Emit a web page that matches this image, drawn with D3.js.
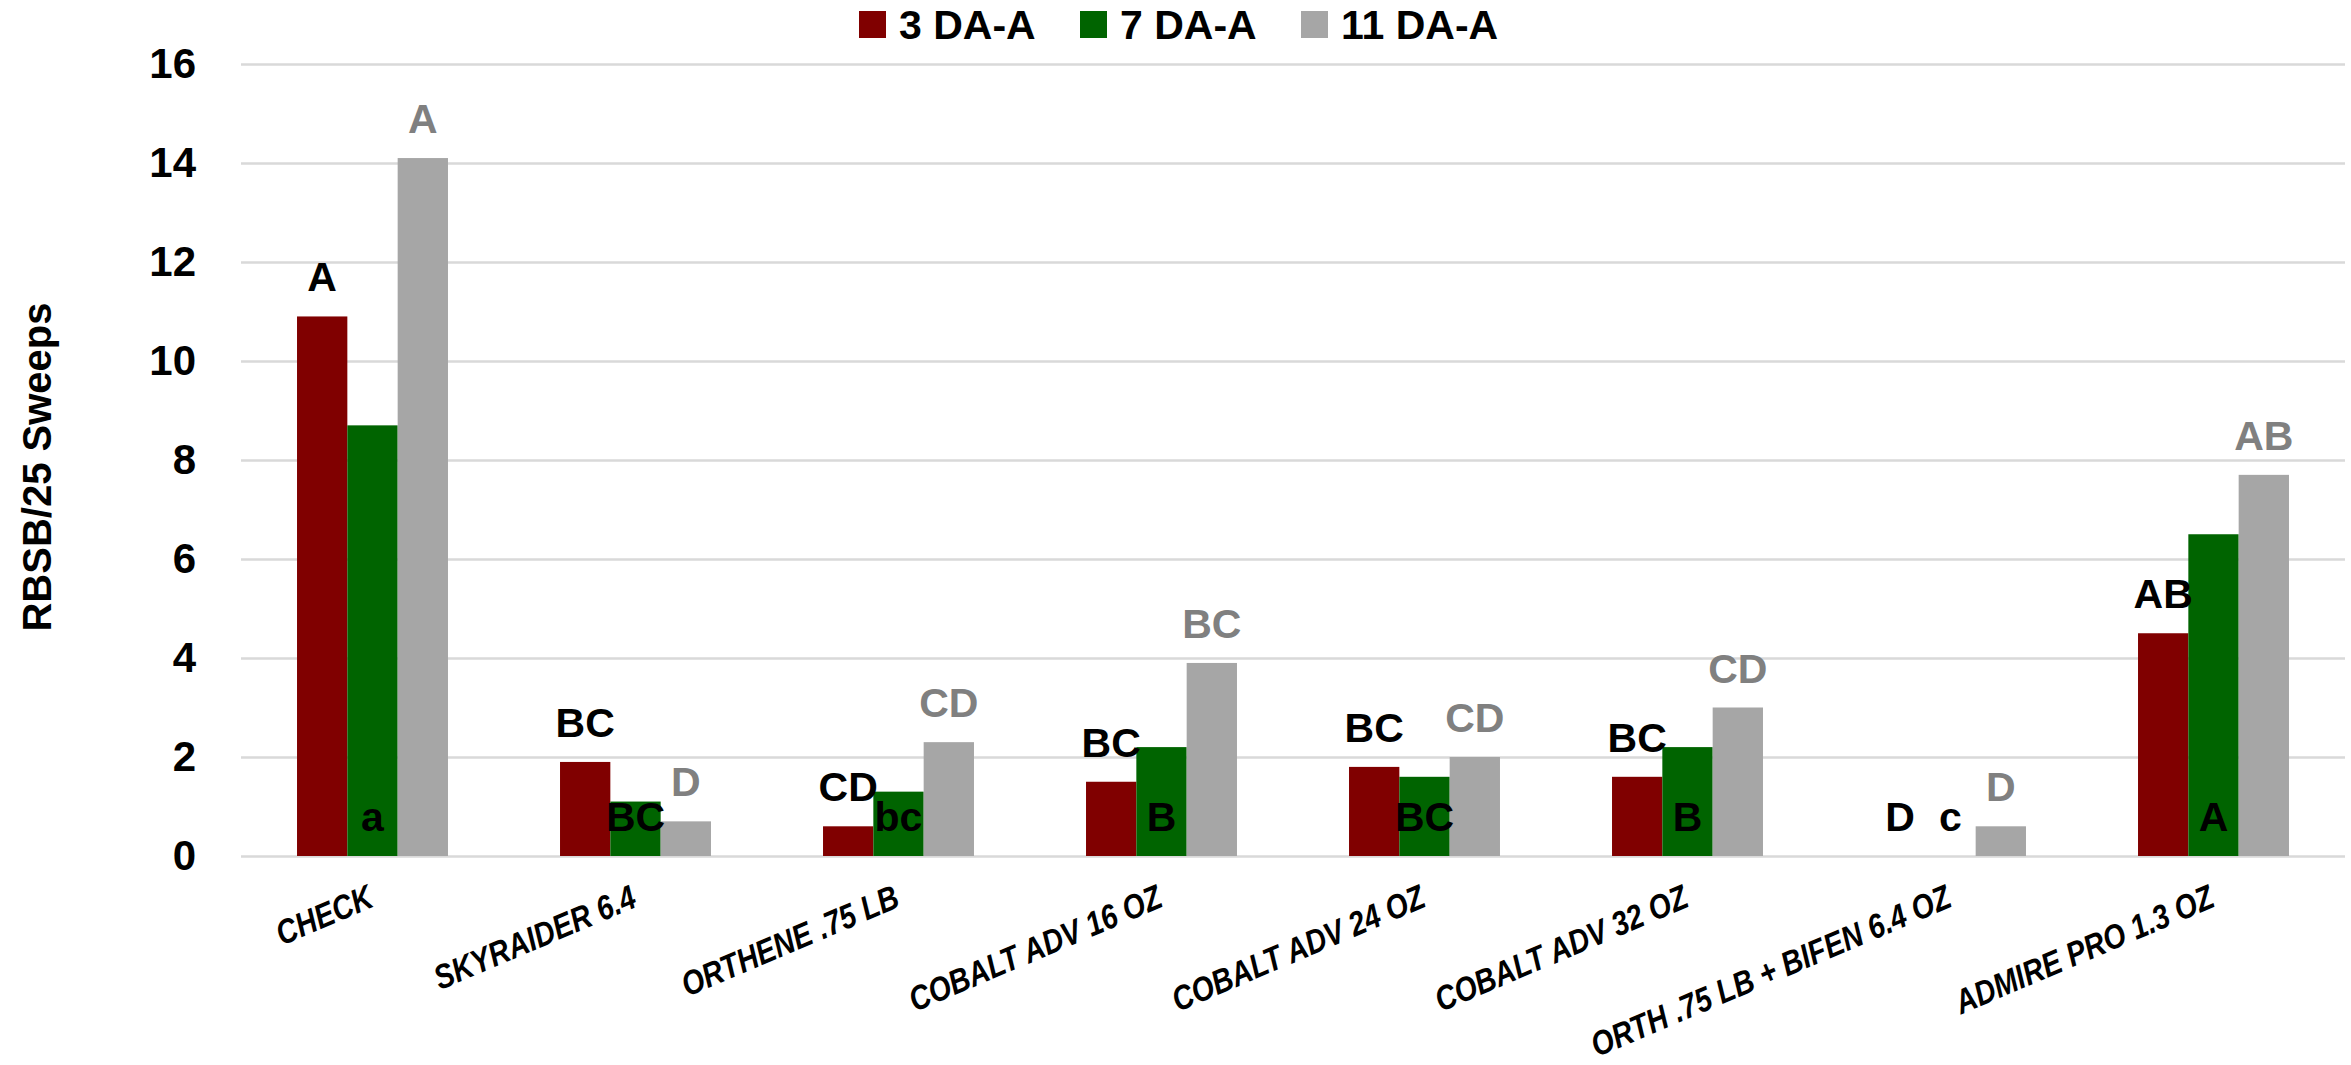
<!DOCTYPE html>
<html>
<head>
<meta charset="utf-8">
<script src="https://cdn.jsdelivr.net/npm/d3@7"></script>
<style>
  html, body { margin: 0; padding: 0; background: #fff; }
  svg { display: block; }
  text { font-family: "Liberation Sans", Arial, sans-serif; font-weight: bold; }
</style>
</head>
<body>
<svg id="chart" width="2351" height="1065"></svg>
<script>
const categories = ["CHECK", "SKYRAIDER 6.4", "ORTHENE .75 LB", "COBALT ADV 16 OZ", "COBALT ADV 24 OZ", "COBALT ADV 32 OZ", "ORTH .75 LB + BIFEN 6.4 OZ", "ADMIRE PRO 1.3 OZ"];
const seriesNames = ["3 DA-A", "7 DA-A", "11 DA-A"];
const seriesColors = ["#800000", "#006400", "#a6a6a6"];
const values3 = [10.9, 1.9, 0.6, 1.5, 1.8, 1.6, 0, 4.5];
const values7 = [8.7, 1.1, 1.3, 2.2, 1.6, 2.2, 0, 6.5];
const values11 = [14.1, 0.7, 2.3, 3.9, 2.0, 3.0, 0.6, 7.7];
const letters3 = ["A", "BC", "CD", "BC", "BC", "BC", "D", "AB"];
const letters7 = ["a", "BC", "bc", "B", "BC", "B", "c", "A"];
const letters11 = ["A", "D", "CD", "BC", "CD", "CD", "D", "AB"];
const yTicks = [0, 2, 4, 6, 8, 10, 12, 14, 16];
const yTitle = "RBSB/25 Sweeps";

const series = [values3, values7, values11];

const svg = d3.select("#chart");
const plotLeft = 241, plotRight = 2345, plotTop = 64, plotBottom = 856;

const x0 = d3.scaleBand().domain(categories).range([plotLeft, plotRight]).paddingInner(0.426).paddingOuter(0.213);
const x1 = d3.scaleBand().domain(d3.range(3)).range([0, x0.bandwidth()]);
const y = d3.scaleLinear().domain([0, 16]).range([plotBottom, plotTop]);

// gridlines + y tick labels
const yAxis = d3.axisLeft(y).tickValues(yTicks).tickSize(-(plotRight - plotLeft)).tickPadding(45).tickFormat(d3.format("d"));
const gy = svg.append("g").attr("transform", `translate(${plotLeft},0)`).call(yAxis);
gy.select(".domain").remove();
gy.selectAll(".tick line").attr("stroke", "#d9d9d9").attr("stroke-width", 2.5);
gy.selectAll(".tick text").attr("font-size", 42).attr("font-family", "Liberation Sans, Arial, sans-serif")
  .attr("font-weight", "bold").attr("fill", "#000");

// bars
const groups = svg.append("g").selectAll("g").data(categories).join("g")
  .attr("transform", c => `translate(${x0(c)},0)`);
groups.each(function(c, i) {
  const g = d3.select(this);
  series.forEach((vals, s) => {
    const v = vals[i];
    if (v > 0) {
      g.append("rect").attr("x", x1(s)).attr("width", x1.bandwidth())
        .attr("y", y(v)).attr("height", y(0) - y(v)).attr("fill", seriesColors[s]);
    }
  });
});

// letter labels
groups.each(function(c, i) {
  const g = d3.select(this);
  g.append("text").attr("x", x1(0) + x1.bandwidth() / 2).attr("y", y(values3[i]) - 25)
    .attr("text-anchor", "middle").attr("font-size", 41).attr("fill", "#000").text(letters3[i]);
  g.append("text").attr("x", x1(1) + x1.bandwidth() / 2).attr("y", y(0) - 25)
    .attr("text-anchor", "middle").attr("font-size", 41).attr("fill", "#000").text(letters7[i]);
  g.append("text").attr("x", x1(2) + x1.bandwidth() / 2).attr("y", y(values11[i]) - 25)
    .attr("text-anchor", "middle").attr("font-size", 41).attr("fill", "#808080").text(letters11[i]);
});

// category labels (condensed look via horizontal scale)
svg.append("g").selectAll("text").data(categories).join("text")
  .attr("transform", c => `translate(${x0(c) + x0.bandwidth() / 2 + 3},906) rotate(-23) scale(0.84,1)`)
  .attr("text-anchor", "end").attr("font-size", 34).attr("font-style", "italic").attr("fill", "#000")
  .text(c => c);

// y title
svg.append("text").attr("transform", "translate(51,467) rotate(-90)")
  .attr("text-anchor", "middle").attr("font-size", 40).attr("fill", "#000").text(yTitle);

// legend
const legendX = [859, 1080, 1301];
const lg = svg.append("g").selectAll("g").data(seriesNames).join("g")
  .attr("transform", (d, i) => `translate(${legendX[i]},11)`);
lg.append("rect").attr("width", 27).attr("height", 27).attr("fill", (d, i) => seriesColors[i]);
lg.append("text").attr("x", 40).attr("y", 28).attr("font-size", 41).attr("fill", "#000").text(d => d);
</script>
</body>
</html>
